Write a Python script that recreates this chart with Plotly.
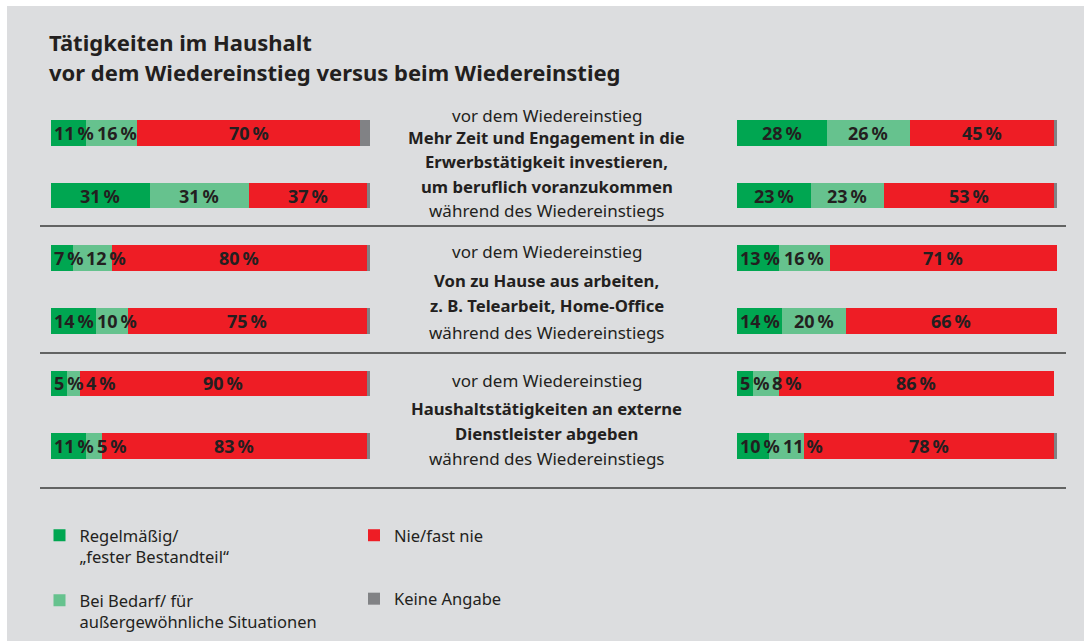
import plotly.graph_objects as go
from plotly.subplots import make_subplots

# ---------------- data ----------------
rows = ["Mehr Zeit – vor", "Mehr Zeit – während",
        "Von zu Hause – vor", "Von zu Hause – während",
        "Externe Dienstleister – vor", "Externe Dienstleister – während"]

left_regelmaessig = [11, 31, 7, 14, 5, 11]
left_bedarf = [16, 31, 12, 10, 4, 5]
left_nie = [70, 37, 80, 75, 90, 83]
left_keine = [3, 1, 1, 1, 1, 1]

right_regelmaessig = [28, 23, 13, 14, 5, 10]
right_bedarf = [26, 23, 16, 20, 8, 11]
right_nie = [45, 53, 71, 66, 86, 78]
right_keine = [1, 1, 0.5, 0.5, 0, 1]

series_names = ["Regelmäßig/<br>„fester Bestandteil“",
                "Bei Bedarf/ für<br>außergewöhnliche Situationen",
                "Nie/fast nie",
                "Keine Angabe"]

section_titles = [["Mehr Zeit und Engagement in die", "Erwerbstätigkeit investieren,", "um beruflich voranzukommen"],
                  ["Von zu Hause aus arbeiten,", "z. B. Telearbeit, Home-Office"],
                  ["Haushaltstätigkeiten an externe", "Dienstleister abgeben"]]
before_label = "vor dem Wiedereinstieg"
during_label = "während des Wiedereinstiegs"
title_lines = ["Tätigkeiten im Haushalt", "vor dem Wiedereinstieg versus beim Wiedereinstieg"]

# ---------------- style ----------------
W, H = 1084, 641
colors = ["#00a651", "#66c28e", "#ee1d25", "#818285"]
text_color = "#231f20"
bg = "#dcdddf"
FONT = "Noto Sans"

def px(x):
    return x / W

def py(y):
    return 1 - y / H

left_dom = (51, 370)
right_dom = (737, 1057)
row_top, row_bot = 101.7, 477.3

fig = make_subplots(rows=1, cols=2, horizontal_spacing=0.01)

panels = [
    (1, "x", "y", left_dom, [left_regelmaessig, left_bedarf, left_nie, left_keine]),
    (2, "x2", "y2", right_dom, [right_regelmaessig, right_bedarf, right_nie, right_keine]),
]

for col, xr, yr, dom, series in panels:
    for i, vals in enumerate(series):
        fig.add_trace(go.Bar(
            y=rows, x=vals, orientation="h", name=series_names[i],
            marker=dict(color=colors[i], line=dict(width=0)),
            width=0.41,
            showlegend=(col == 1),
            legendgroup=f"g{i}",
            legend="legend" if i < 2 else "legend2",
            hovertemplate="%{y}: %{x} %<extra></extra>",
        ), row=1, col=col)

fig.update_layout(barmode="stack")

# axes
for col, xr, yr, dom, series in panels:
    fig.update_xaxes(range=[0, 100], domain=[px(dom[0]), px(dom[1])],
                     visible=False, fixedrange=True, row=1, col=col)
    fig.update_yaxes(categoryorder="array", categoryarray=rows,
                     range=[len(rows) - 0.5, -0.5],
                     domain=[py(row_bot), py(row_top)],
                     visible=False, fixedrange=True, row=1, col=col)

annotations = []

# value labels with simple overlap avoidance
LABEL_SIZE = 18
digit_w, space_w, pct_w = 0.572 * LABEL_SIZE, 0.2 * LABEL_SIZE, 0.87 * LABEL_SIZE
def label_width(v):
    return len(str(v)) * digit_w + space_w + pct_w

for col, xr, yr, dom, series in panels:
    scale = (dom[1] - dom[0]) / 100.0
    for r in range(len(rows)):
        cum = 0.0
        prev_right = dom[0]
        for i in range(3):
            v = series[i][r]
            center_val = cum + v / 2.0
            center_px = dom[0] + center_val * scale
            w = label_width(v)
            left = center_px - w / 2
            shift = 0.0
            if left < prev_right + 3:
                shift = prev_right + 3 - left
            prev_right = left + shift + w
            annotations.append(dict(
                x=center_val, y=rows[r], xref=xr, yref=yr,
                text=f"<b>{v}\u2009%</b>", showarrow=False,
                xshift=shift, xanchor="center", yanchor="middle",
                font=dict(family=FONT, size=LABEL_SIZE, color=text_color),
            ))
            cum += v

# center texts
cx = px(546.5)
sec_layout = [
    (115, [137, 162, 186], 210),
    (252, [280, 305], 332),
    (380, [408, 433], 458),
]
for (yv, ybold, yw), lines in zip(sec_layout, section_titles):
    annotations.append(dict(x=cx, y=py(yv), xref="paper", yref="paper", text=before_label,
                            showarrow=False, xanchor="center", yanchor="middle",
                            font=dict(family=FONT, size=17, color=text_color)))
    for yb, line in zip(ybold, lines):
        annotations.append(dict(x=cx, y=py(yb), xref="paper", yref="paper", text=f"<b>{line}</b>",
                                showarrow=False, xanchor="center", yanchor="middle",
                                font=dict(family=FONT, size=16.7, color=text_color)))
    annotations.append(dict(x=cx, y=py(yw), xref="paper", yref="paper", text=during_label,
                            showarrow=False, xanchor="center", yanchor="middle",
                            font=dict(family=FONT, size=17, color=text_color)))

# title
for yt, line in zip([42, 72], title_lines):
    annotations.append(dict(x=px(47), y=py(yt), xref="paper", yref="paper", text=f"<b>{line}</b>",
                            showarrow=False, xanchor="left", yanchor="middle",
                            font=dict(family=FONT, size=22, color=text_color)))

shapes = [dict(type="rect", xref="paper", yref="paper", x0=px(7), x1=1, y0=0, y1=py(6),
               fillcolor=bg, line=dict(width=0), layer="below")]
for ys in [226, 353, 488]:
    shapes.append(dict(type="line", xref="paper", yref="paper", x0=px(40), x1=px(1066),
                       y0=py(ys), y1=py(ys), line=dict(color="#3a3a3a", width=1.6)))

legend_common = dict(
    orientation="v", xanchor="left", yanchor="top", bgcolor="rgba(0,0,0,0)",
    font=dict(family=FONT, size=16.5, color=text_color), valign="top",
    traceorder="grouped", itemclick=False, itemdoubleclick=False,
)

fig.update_layout(
    width=W, height=H, margin=dict(l=0, r=0, t=0, b=0),
    paper_bgcolor="#ffffff", plot_bgcolor="rgba(0,0,0,0)",
    annotations=annotations, shapes=shapes,
    legend=dict(x=px(39.5), y=py(518), tracegroupgap=19, **legend_common),
    legend2=dict(x=px(354), y=py(518), tracegroupgap=39, **legend_common),
    font=dict(family=FONT, color=text_color),
)

fig.write_html("out.html", config={"displayModeBar": False},
               post_script="document.body.style.margin='0';")
